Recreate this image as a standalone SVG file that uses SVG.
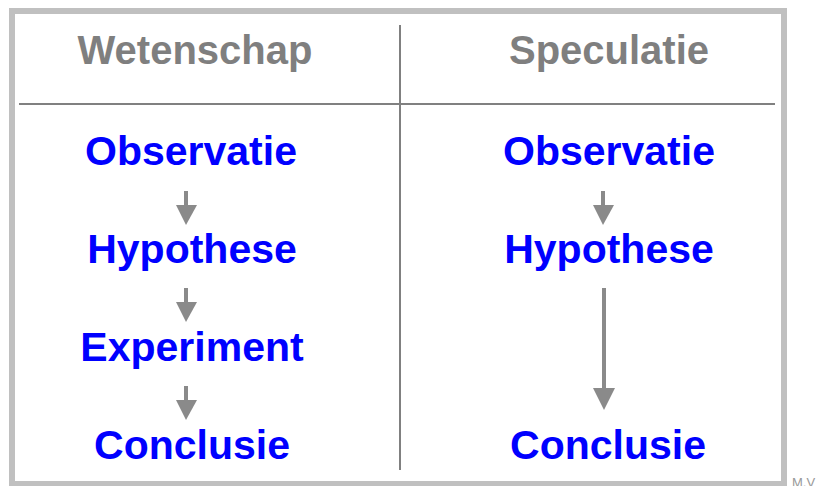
<svg xmlns="http://www.w3.org/2000/svg" width="828" height="486" viewBox="0 0 828 486">
<style>
.hdr{font-family:"Liberation Sans",Arial,sans-serif;font-weight:bold;font-size:40px;fill:#7f7f7f;text-anchor:middle}
.lbl{font-family:"Liberation Sans",Arial,sans-serif;font-weight:bold;font-size:41px;fill:#0000ff;text-anchor:middle}
.shaft{stroke:#8a8a8a;stroke-width:4;fill:none}
.head{fill:#8a8a8a}
.rule{stroke:#808080;stroke-width:2;fill:none}
</style>
<rect x="12" y="11" width="772" height="473" fill="#ffffff" stroke="#c0c0c0" stroke-width="6"/>
<g id="grid">
<line class="rule" x1="19" y1="104" x2="775" y2="104"/>
<line class="rule" x1="400" y1="25" x2="400" y2="470"/>
</g>
<g id="headers">
<text class="hdr" x="195" y="64">Wetenschap</text>
<text class="hdr" x="609" y="64">Speculatie</text>
</g>
<g id="w-observatie"><text class="lbl" x="191" y="165">Observatie</text></g>
<g id="w-hypothese"><text class="lbl" x="192" y="263">Hypothese</text></g>
<g id="w-experiment"><text class="lbl" x="192" y="361">Experiment</text></g>
<g id="w-conclusie"><text class="lbl" x="192" y="459">Conclusie</text></g>
<g id="s-observatie"><text class="lbl" x="609" y="165">Observatie</text></g>
<g id="s-hypothese"><text class="lbl" x="609" y="263">Hypothese</text></g>
<g id="s-conclusie"><text class="lbl" x="608" y="459">Conclusie</text></g>
<g id="connectors">
<line class="shaft" x1="186" y1="191" x2="186" y2="208"/>
<polygon class="head" points="176,205 197,205 186,225"/>
<line class="shaft" x1="186" y1="288" x2="186" y2="305"/>
<polygon class="head" points="176,302 197,302 186,322"/>
<line class="shaft" x1="186" y1="386" x2="186" y2="403"/>
<polygon class="head" points="176,400 197,400 186,420"/>
<line class="shaft" x1="603" y1="191" x2="603" y2="208"/>
<polygon class="head" points="593,205 614,205 603,225"/>
<line class="shaft" x1="604" y1="288" x2="604" y2="391"/>
<polygon class="head" points="593,388 615,388 604,410"/>
</g>
<text x="792" y="487" font-family="Liberation Sans,Arial,sans-serif" font-size="13" fill="#999999">M.V</text>
</svg>
